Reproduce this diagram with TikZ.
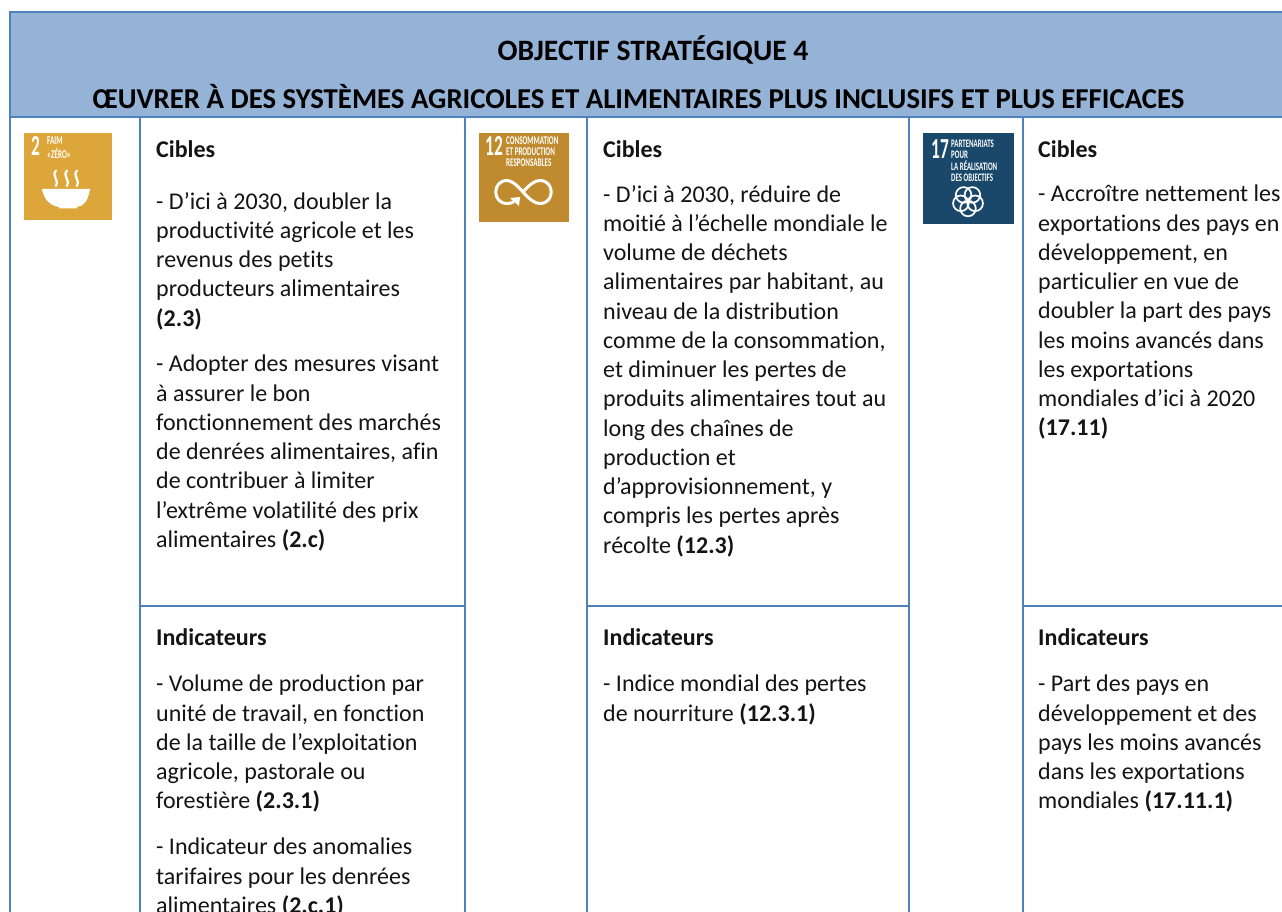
\documentclass[tikz,border=0pt]{standalone}
\usepackage{fontspec}
\setmainfont[Ligatures={NoCommon}]{Carlito}
\definecolor{rulec}{HTML}{4F81BD}
\definecolor{headc}{HTML}{95B3D7}
\definecolor{sdgA}{HTML}{DDA63A}
\definecolor{sdgB}{HTML}{BF8B2E}
\definecolor{sdgC}{HTML}{19486A}
\newcommand{\fs}{\rule{0pt}{15pt}}
\newcommand{\ic}[2]{\scalebox{0.6}[1]{\fontsize{#1}{10}\selectfont\bfseries\begin{tabular}[t]{@{}l@{}}#2\end{tabular}}}
\tikzset{
 x=1pt,y=-1pt,
 rulel/.style={draw=rulec,line width=2pt},
 para/.style={anchor=north west,inner sep=0pt,align=left,text=black!92,font=\fontsize{24}{29.25}\selectfont},
 head/.style={inner sep=0pt,text=black,font=\fontsize{28.8}{28.8}\selectfont\bfseries},
 icont/.style={anchor=north west,inner sep=0pt,text=white,align=left},
 iconl/.style={draw=white,line width=2.2pt,line cap=round}
}
\begin{document}
\begin{tikzpicture}
\useasboundingbox (0,0) rectangle (1282,912);
\fill[white] (0,0) rectangle (1282,912);
\fill[headc] (10,12) rectangle (1282,117);
\draw[rulel] (10,12) -- (1282,12);
\draw[rulel] (9,117) -- (1282,117);
\draw[rulel] (10,11) -- (10,912);
\foreach \x in {140,465,587,909,1023} \draw[rulel] (\x,117) -- (\x,912);
\draw[rulel] (140,606) -- (465,606);
\draw[rulel] (587,606) -- (909,606);
\draw[rulel] (1023,606) -- (1282,606);
\node[head,font=\fontsize{29.6}{29.6}\selectfont\bfseries] (h1) at (653,50) {OBJECTIF STRATÉGIQUE 4};
\node[head] (h2) at (638.5,97) {ŒUVRER À DES SYSTÈMES AGRICOLES ET ALIMENTAIRES PLUS INCLUSIFS ET PLUS EFFICACES};
% icon 2
\fill[sdgA] (24,133) rectangle (112,220);
\node[icont] (i2n) at (31,136) {\ic{29}{2}};
\node[icont] (i2t) at (47,137) {\ic{12}{FAIM\\«ZÉRO»}};
\fill[white] (42,189) .. controls (44,201) and (52,206) .. (59,207) -- (59,208.5) -- (77,208.5) -- (77,207) .. controls (84,206) and (88,201) .. (90,189) -- cycle;
\foreach \x in {56,67,77}
 \draw[iconl] (\x,170.5) .. controls (\x-5,176) and (\x+4,181) .. (\x,186);
% icon 12
\fill[sdgB] (479,133) rectangle (569,222);
\node[icont] (i12n) at (485,136) {\ic{29}{12}};
\node[icont] (i12t) at (506,137) {\ic{11.8}{CONSOMMATION\\ET PRODUCTION\\RESPONSABLES}};
\draw[white,line width=3pt] (523,192) .. controls (530,184) and (535,180.5) .. (540,180.5) .. controls (555,180.5) and (555,203.5) .. (540,203.5) .. controls (535,203.5) and (530,200) .. (523,192) .. controls (516,184) and (511,180.5) .. (507,180.5) .. controls (492,180.5) and (492,203.5) .. (507,203.5) .. controls (510,203.5) and (512,203) .. (514,201.5);
\fill[white] (510,198) -- (520,197) -- (519,206) -- cycle;
% icon 17
\fill[sdgC] (923,133) rectangle (1014,224);
\node[icont] (i17n) at (931,139) {\ic{29}{17}};
\node[icont] (i17t) at (951,140) {\ic{11.5}{PARTENARIATS\\POUR\\LA RÉALISATION\\DES OBJECTIFS}};
\foreach \a in {90,162,234,306,18}
 \draw[white,line width=1.7pt] (968,201)+(\a:7.5) circle (7.8);
% column 1
\node[para] (a1) at (156,140) {\fs\textbf{Cibles}};
\node[para] (a2) at (156,192) {\fs- D’ici à 2030, doubler la\\productivité agricole et les\\revenus des petits\\producteurs alimentaires\\\textbf{(2.3)}};
\node[para] (a3) at (156,355) {\fs- Adopter des mesures visant\\à assurer le bon\\fonctionnement des marchés\\de denrées alimentaires, afin\\de contribuer à limiter\\l’extrême volatilité des prix\\alimentaires \textbf{(2.c)}};
\node[para] (a4) at (156,628) {\fs\textbf{Indicateurs}};
\node[para] (a5) at (156,675) {\fs- Volume de production par\\unité de travail, en fonction\\de la taille de l’exploitation\\agricole, pastorale ou\\forestière \textbf{(2.3.1)}};
\node[para] (a6) at (156,838) {\fs- Indicateur des anomalies\\tarifaires pour les denrées\\alimentaires \textbf{(2.c.1)}};
% column 2
\node[para] (b1) at (603,140) {\fs\textbf{Cibles}};
\node[para] (b2) at (603,185) {\fs- D’ici à 2030, réduire de\\moitié à l’échelle mondiale le\\volume de déchets\\alimentaires par habitant, au\\niveau de la distribution\\comme de la consommation,\\et diminuer les pertes de\\produits alimentaires tout au\\long des chaînes de\\production et\\d’approvisionnement, y\\compris les pertes après\\récolte \textbf{(12.3)}};
\node[para] (b3) at (603,628) {\fs\textbf{Indicateurs}};
\node[para] (b4) at (603,675) {\fs- Indice mondial des pertes\\de nourriture \textbf{(12.3.1)}};
% column 3
\node[para] (c1) at (1038,140) {\fs\textbf{Cibles}};
\node[para] (c2) at (1038,185) {\fs- Accroître nettement les\\exportations des pays en\\développement, en\\particulier en vue de\\doubler la part des pays\\les moins avancés dans\\les exportations\\mondiales d’ici à 2020\\\textbf{(17.11)}};
\node[para] (c3) at (1038,628) {\fs\textbf{Indicateurs}};
\node[para] (c4) at (1038,675) {\fs- Part des pays en\\développement et des\\pays les moins avancés\\dans les exportations\\mondiales \textbf{(17.11.1)}};
\end{tikzpicture}
\end{document}
